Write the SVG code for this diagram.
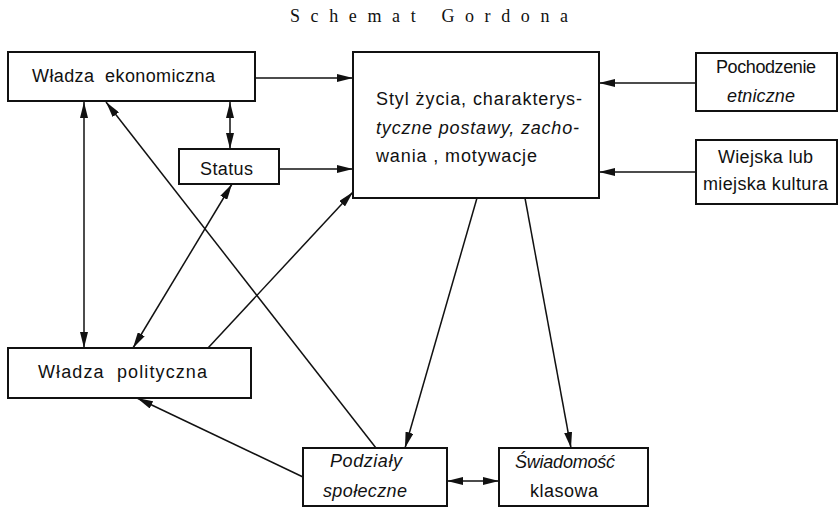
<svg xmlns="http://www.w3.org/2000/svg" width="840" height="509" viewBox="0 0 840 509">
<style>
.box{fill:#fff;stroke:#111;stroke-width:2}
.t{font-family:"Liberation Sans","DejaVu Sans",sans-serif;font-size:18px;fill:#111}
.ti{font-family:"Liberation Serif",serif;font-size:18px;fill:#111}
.c{fill:none;stroke:#111;stroke-width:1.5}
</style>
<defs>
<marker id="ah" viewBox="0 0 16 8" refX="16" refY="4" markerWidth="16" markerHeight="8" markerUnits="userSpaceOnUse" orient="auto-start-reverse">
<path d="M0,0 L16,4 L0,8 Z" fill="#111"/>
</marker>
</defs>
<rect width="840" height="509" fill="#fff"/>
<text class="ti" x="290" y="22" textLength="278" lengthAdjust="spacing">Schemat Gordona</text>

<g id="connectors">
<line class="c" x1="255" y1="78" x2="353" y2="78" marker-end="url(#ah)"/>
<line class="c" x1="279" y1="169" x2="353" y2="169" marker-end="url(#ah)"/>
<line class="c" x1="696" y1="83" x2="599" y2="83" marker-end="url(#ah)"/>
<line class="c" x1="696" y1="172" x2="599" y2="172" marker-end="url(#ah)"/>
<line class="c" x1="230" y1="102" x2="230" y2="149" marker-start="url(#ah)" marker-end="url(#ah)"/>
<line class="c" x1="84" y1="102" x2="84" y2="348" marker-start="url(#ah)" marker-end="url(#ah)"/>
<line class="c" x1="232" y1="184" x2="133" y2="348" marker-start="url(#ah)" marker-end="url(#ah)"/>
<line class="c" x1="208" y1="348" x2="353" y2="192" marker-end="url(#ah)"/>
<line class="c" x1="376" y1="448" x2="106" y2="102" marker-end="url(#ah)"/>
<line class="c" x1="477" y1="198" x2="405" y2="448" marker-end="url(#ah)"/>
<line class="c" x1="525" y1="198" x2="571" y2="448" marker-end="url(#ah)"/>
<line class="c" x1="303" y1="477" x2="137" y2="398" marker-end="url(#ah)"/>
<line class="c" x1="447" y1="481" x2="499" y2="481" marker-start="url(#ah)" marker-end="url(#ah)"/>
</g>

<g id="wladza-ekonomiczna">
<rect class="box" x="8" y="52" width="247" height="49"/>
<text class="t" x="32" y="82" xml:space="preserve" textLength="183" lengthAdjust="spacing">Władza  ekonomiczna</text>
</g>
<g id="status">
<rect class="box" x="179" y="149" width="100" height="35"/>
<text class="t" x="200" y="175" textLength="53" lengthAdjust="spacing">Status</text>
</g>
<g id="styl-zycia">
<rect class="box" x="353" y="52" width="246" height="146"/>
<text class="t" x="376" y="105" textLength="206" lengthAdjust="spacing">Styl życia, charakterys-</text>
<text class="t" x="376" y="134" textLength="203" lengthAdjust="spacing" font-style="italic">tyczne postawy, zacho-</text>
<text class="t" x="376" y="162" textLength="161" lengthAdjust="spacing">wania , motywacje</text>
</g>
<g id="pochodzenie">
<rect class="box" x="696" y="53" width="141" height="58"/>
<text class="t" x="716" y="73" textLength="100" lengthAdjust="spacing">Pochodzenie</text>
<text class="t" x="727" y="102" textLength="68" lengthAdjust="spacing" font-style="italic">etniczne</text>
</g>
<g id="wiejska">
<rect class="box" x="696" y="140" width="141" height="64"/>
<text class="t" x="718" y="163" textLength="95" lengthAdjust="spacing">Wiejska lub</text>
<text class="t" x="703" y="190" textLength="125" lengthAdjust="spacing">miejska kultura</text>
</g>
<g id="wladza-polityczna">
<rect class="box" x="8" y="348" width="243" height="50"/>
<text class="t" x="38" y="378" xml:space="preserve" textLength="169" lengthAdjust="spacing">Władza  polityczna</text>
</g>
<g id="podzialy">
<rect class="box" x="303" y="448" width="144" height="58"/>
<text class="t" x="330" y="467" textLength="72" lengthAdjust="spacing" font-style="italic">Podziały</text>
<text class="t" x="323" y="497" textLength="84" lengthAdjust="spacing" font-style="italic">społeczne</text>
</g>
<g id="swiadomosc">
<rect class="box" x="499" y="448" width="149" height="58"/>
<text class="t" x="515" y="468" textLength="100" lengthAdjust="spacing" font-style="italic">Świadomość</text>
<text class="t" x="530" y="497" textLength="68" lengthAdjust="spacing">klasowa</text>
</g>
</svg>
